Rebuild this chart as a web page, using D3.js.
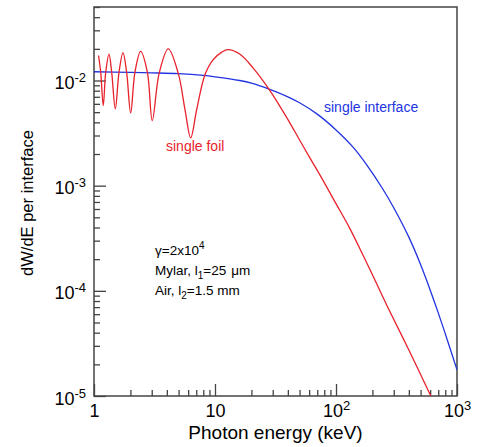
<!DOCTYPE html>
<html>
<head>
<meta charset="utf-8">
<script src="https://cdn.jsdelivr.net/npm/d3@7"></script>
<style>
  body { margin: 0; background: #fff; }
  svg { font-family: Arial, "Liberation Sans", sans-serif; }
</style>
</head>
<body>
<div id="chart"></div>
<script>
// Dữ liệu: năng lượng photon (keV) và dW/dE
const interfaceE = [1, 2, 3, 5, 8, 10, 16, 20, 28, 40, 50, 70, 100, 140, 180, 240, 300, 400, 500, 600, 700, 850, 1000];
const interfaceW = [0.01211, 0.01197, 0.01183, 0.01161, 0.01117, 0.01084, 0.0100, 0.00944, 0.00828, 0.0070, 0.00614,
    0.00479, 0.00339, 0.00229, 0.00157, 0.000955, 0.000617, 0.000324, 0.000178, 0.000102, 0.0000617, 0.0000316, 0.0000177];

const foilE = [1.09, 1.136, 1.193, 1.25, 1.33, 1.40, 1.50, 1.61, 1.736, 1.86, 2.01, 2.18, 2.43, 2.76, 3.03, 3.46,
    4.11, 4.97, 5.65, 6.3, 7.06, 8.27, 9.67, 11.37, 12.8, 16, 20.6, 28, 39.4, 50, 61, 80, 100, 130, 167, 200, 269,
    400, 598, 620];
const foilW = [0.0173, 0.0120, 0.00578, 0.0120, 0.0178, 0.0120, 0.00538, 0.0120, 0.0184, 0.0120, 0.00492, 0.0120,
    0.0189, 0.0120, 0.00416, 0.0118, 0.0200, 0.0117, 0.0053, 0.00285, 0.0053, 0.0114, 0.0158, 0.0186, 0.0197,
    0.01786, 0.0132, 0.00824, 0.00439, 0.00272, 0.00183, 0.00107, 0.000674, 0.000393, 0.000219, 0.000142, 0.000069,
    0.0000274, 0.0000104, 0.0000095];

// Vạch chia trục
const xMajor = [1, 10, 100, 1000];
const xMajorExp = [0, 1, 2, 3];
const yMajor = [1e-5, 1e-4, 1e-3, 1e-2];
const yMajorExp = [-5, -4, -3, -2];

const width = 481, height = 447;
const margin = { left: 94, right: 24, top: 7, bottom: 51 };
const axisColor = '#444';
const red = '#e8222c', blue = '#2233e0';

const svg = d3.select('#chart').append('svg')
    .attr('width', width)
    .attr('height', height);

// Thang log cho hai trục
const x = d3.scaleLog().domain([1, 1000]).range([margin.left, width - margin.right]);
const y = d3.scaleLog().domain([1e-5, 5e-2]).range([height - margin.bottom, margin.top]);

// Vạch phụ: 2..9 mỗi decade
const xMinor = [];
[1, 10, 100].forEach(b => { for (let k = 2; k <= 9; k++) xMinor.push(b * k); });
const yMinor = [];
[1e-5, 1e-4, 1e-3, 1e-2].forEach(b => { for (let k = 2; k <= 9; k++) if (b * k <= 5e-2) yMinor.push(b * k); });

// Trục x: vạch phụ và vạch chính hướng vào trong
const gxMinor = svg.append('g')
    .attr('transform', `translate(0,${height - margin.bottom})`)
    .call(d3.axisBottom(x).tickValues(xMinor).tickSizeInner(-6).tickSizeOuter(0).tickFormat(''));
const gx = svg.append('g')
    .attr('transform', `translate(0,${height - margin.bottom})`)
    .call(d3.axisBottom(x).tickValues(xMajor).tickSizeInner(-12).tickSizeOuter(0).tickFormat(''));

// Trục y
const gyMinor = svg.append('g')
    .attr('transform', `translate(${margin.left},0)`)
    .call(d3.axisLeft(y).tickValues(yMinor).tickSizeInner(-6).tickSizeOuter(0).tickFormat(''));
const gy = svg.append('g')
    .attr('transform', `translate(${margin.left},0)`)
    .call(d3.axisLeft(y).tickValues(yMajor).tickSizeInner(-12).tickSizeOuter(0).tickFormat(''));

[gxMinor, gx, gyMinor, gy].forEach(g => {
    g.select('.domain').remove();
    g.selectAll('line').attr('stroke', axisColor).attr('stroke-width', 1.3);
});

// Nhãn trục x dạng 10^n
gx.selectAll('.tick text').each(function (d, i) {
    const t = d3.select(this)
        .attr('y', 21)
        .attr('dy', 0)
        .attr('fill', '#000')
        .attr('font-size', 18)
        .attr('text-anchor', 'middle');
    const e = xMajorExp[i];
    if (e === 0) t.text('1');
    else if (e === 1) t.text('10');
    else {
        t.append('tspan').text('10');
        t.append('tspan').attr('dy', -7).attr('font-size', 13).text(e);
    }
});

// Nhãn trục y dạng 10^-n
gy.selectAll('.tick text').each(function (d, i) {
    const t = d3.select(this)
        .attr('x', -8)
        .attr('dy', 0)
        .attr('y', 8)
        .attr('fill', '#000')
        .attr('font-size', 18)
        .attr('text-anchor', 'end');
    t.append('tspan').text('10');
    t.append('tspan').attr('dy', -7).attr('font-size', 13).text(yMajorExp[i]);
});

// Khung đồ thị
svg.append('rect')
    .attr('x', margin.left)
    .attr('y', margin.top)
    .attr('width', width - margin.left - margin.right)
    .attr('height', height - margin.top - margin.bottom)
    .attr('fill', 'none')
    .attr('stroke', axisColor)
    .attr('stroke-width', 1.5);

// Vùng cắt cho các đường cong
svg.append('clipPath').attr('id', 'plot-clip')
    .append('rect')
    .attr('x', margin.left)
    .attr('y', margin.top)
    .attr('width', width - margin.left - margin.right)
    .attr('height', height - margin.top - margin.bottom);

const line = d3.line()
    .x(d => x(d[0]))
    .y(d => y(d[1]))
    .curve(d3.curveCatmullRom.alpha(0.5));

const curves = svg.append('g').attr('clip-path', 'url(#plot-clip)');

curves.append('path')
    .datum(interfaceE.map((e, i) => [e, interfaceW[i]]))
    .attr('fill', 'none')
    .attr('stroke', blue)
    .attr('stroke-width', 1.3)
    .attr('d', line);

curves.append('path')
    .datum(foilE.map((e, i) => [e, foilW[i]]))
    .attr('fill', 'none')
    .attr('stroke', red)
    .attr('stroke-width', 1.3)
    .attr('d', line);

// Nhãn các đường
svg.append('text')
    .attr('x', 166).attr('y', 151)
    .attr('fill', red)
    .attr('font-size', 14)
    .text('single foil');

svg.append('text')
    .attr('x', 324).attr('y', 112)
    .attr('fill', blue)
    .attr('font-size', 14)
    .text('single interface');

// Chú thích tham số
const note = svg.append('g').attr('font-size', 13.5).attr('fill', '#000');
const n1 = note.append('text').attr('x', 155).attr('y', 255);
n1.append('tspan').text('γ=2x10');
n1.append('tspan').attr('dy', -6).attr('font-size', 10).text('4');

const n2 = note.append('text').attr('x', 155).attr('y', 275);
n2.append('tspan').text('Mylar, l');
n2.append('tspan').attr('dy', 4).attr('font-size', 10).text('1');
n2.append('tspan').attr('dy', -4).text('=25');
n2.append('tspan').attr('dx', 5).text('μm');

const n3 = note.append('text').attr('x', 155).attr('y', 295);
n3.append('tspan').text('Air, l');
n3.append('tspan').attr('dy', 4).attr('font-size', 10).text('2');
n3.append('tspan').attr('dy', -4).text('=1.5 mm');

// Tiêu đề trục
svg.append('text')
    .attr('x', (margin.left + width - margin.right) / 2)
    .attr('y', 439)
    .attr('text-anchor', 'middle')
    .attr('font-size', 19)
    .text('Photon energy (keV)');

svg.append('text')
    .attr('transform', 'translate(33,203) rotate(-90)')
    .attr('text-anchor', 'middle')
    .attr('font-size', 16.5)
    .text('dW/dE per interface');
</script>
</body>
</html>
